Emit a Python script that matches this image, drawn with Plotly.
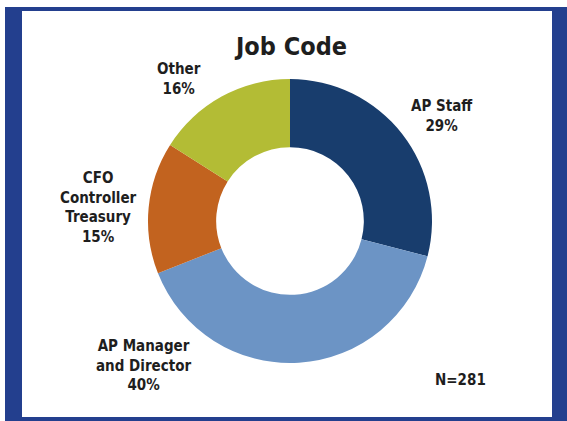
import plotly.graph_objects as go

W, H = 567, 421

# Survey breakdown by job code (clockwise from 12 o'clock)
categories = ["AP Staff", "AP Manager<br>and Director", "CFO<br>Controller<br>Treasury", "Other"]
shares = [29, 40, 15, 16]
colors = ["#183d6d", "#6c94c5", "#c2631f", "#b3bc35"]
title_text = "Job Code"
sample_note = "N=281"

# label anchor points in pixels (centre of each text block)
label_pos = [(442, 116), (143, 365), (98, 207), (179, 79)]

FONT = "Liberation Sans Narrow, Arial Narrow, DejaVu Sans Condensed, sans-serif"
TXT = "#1e1e1e"

def px(x):
    return x / W

def py(y):
    return 1 - y / H

cx, cy, r = 290, 221, 142

fig = go.Figure(
    go.Pie(
        labels=categories,
        values=shares,
        marker=dict(colors=colors, line=dict(width=0)),
        hole=0.52,
        sort=False,
        direction="clockwise",
        rotation=0,
        textinfo="none",
        hoverinfo="label+percent",
        showlegend=False,
        domain=dict(x=[px(cx - r), px(cx + r)], y=[py(cy + r), py(cy - r)]),
    )
)

annotations = []
for name, val, (x, y) in zip(categories, shares, label_pos):
    annotations.append(dict(
        x=px(x), y=py(y), xref="paper", yref="paper",
        text=f"<b>{name}<br>{val}%</b>", showarrow=False,
        xanchor="center", yanchor="middle", align="center",
        font=dict(family=FONT, size=15, color=TXT),
    ))

annotations.append(dict(
    x=px(290), y=py(46), xref="paper", yref="paper",
    text=f"<b>{title_text}</b>", showarrow=False,
    xanchor="center", yanchor="middle",
    font=dict(family=FONT, size=25, color=TXT),
))
annotations.append(dict(
    x=px(460), y=py(380), xref="paper", yref="paper",
    text=f"<b>{sample_note}</b>", showarrow=False,
    xanchor="center", yanchor="middle",
    font=dict(family=FONT, size=15, color=TXT),
))

shapes = [
    # blue frame
    dict(type="rect", xref="paper", yref="paper", layer="below",
         x0=px(5), x1=px(567), y0=py(421), y1=py(7),
         fillcolor="#233f8e", line=dict(width=0)),
    # white panel
    dict(type="rect", xref="paper", yref="paper", layer="below",
         x0=px(22), x1=px(552), y0=py(417), y1=py(11),
         fillcolor="#ffffff", line=dict(width=0)),
]

fig.update_layout(
    width=W, height=H,
    margin=dict(l=0, r=0, t=0, b=0),
    paper_bgcolor="#ffffff",
    plot_bgcolor="#ffffff",
    annotations=annotations,
    shapes=shapes,
)

fig.write_html("out.html")
